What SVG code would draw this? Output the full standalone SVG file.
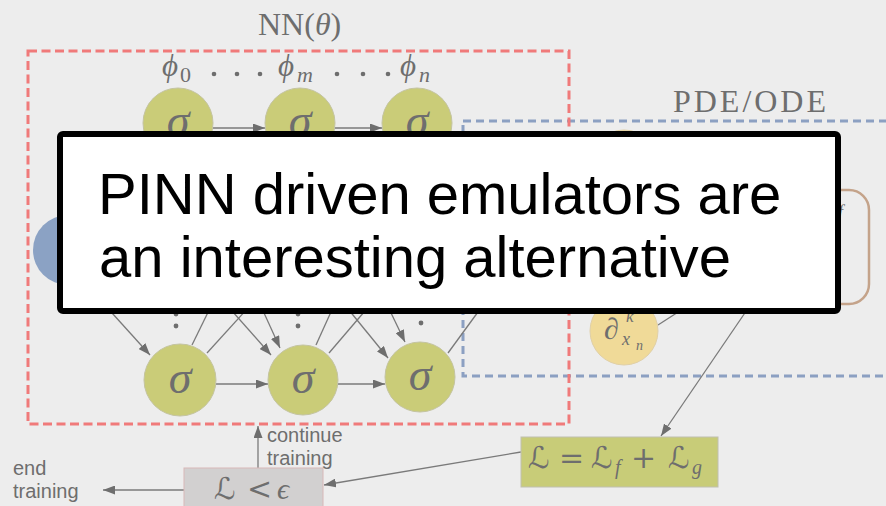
<svg xmlns="http://www.w3.org/2000/svg" width="886" height="506" viewBox="0 0 886 506">
<style>
.bg{fill:#ededed}
.math{font-family:"Liberation Serif","DejaVu Serif",serif;fill:#6e6e6e}
.it{font-style:italic}
.scr{font-family:"DejaVu Serif","DejaVu Sans",serif;fill:#6e6e6e}
.lbl{font-family:"Liberation Sans",Arial,sans-serif;fill:#6e6e6e;font-size:20px}
.sig{fill:#cacc78;stroke:#c4c4a0;stroke-width:1}
.edge{stroke:#7a7a7a;stroke-width:1.3;fill:none}
.dot{fill:#6e6e6e}
</style>
<defs>
<marker id="ah" markerUnits="userSpaceOnUse" markerWidth="13" markerHeight="9" refX="12" refY="4.5" orient="auto">
<path d="M0,0 L12,4.5 L0,9 z" fill="#6e6e6e"/>
</marker>
</defs>
<rect class="bg" x="0" y="0" width="886" height="506"/>

<g id="pde-region">
<rect x="463" y="121" width="440" height="255" fill="none" stroke="#8ca0c2" stroke-width="3" stroke-dasharray="8 5"/>
<text class="math" x="673" y="112" font-size="32" textLength="153">PDE/ODE</text>
</g>

<g id="nn-region">
<rect x="28" y="51" width="541" height="373" fill="none" stroke="#f07a7a" stroke-width="3" stroke-dasharray="9 4.5"/>
<text class="math" x="258" y="35" font-size="32">NN(<tspan class="it">θ</tspan>)</text>
</g>

<g id="labels-phi">
<text class="math it" x="162" y="76" font-size="31">ϕ</text>
<text class="math" x="180" y="82" font-size="22">0</text>
<circle class="dot" cx="214" cy="74" r="2.3"/><circle class="dot" cx="237" cy="74" r="2.3"/><circle class="dot" cx="260" cy="74" r="2.3"/>
<text class="math it" x="278" y="76" font-size="31">ϕ</text>
<text class="math it" x="297" y="82" font-size="22">m</text>
<circle class="dot" cx="337" cy="74" r="2.3"/><circle class="dot" cx="363" cy="74" r="2.3"/><circle class="dot" cx="388" cy="74" r="2.3"/>
<text class="math it" x="400" y="76" font-size="31">ϕ</text>
<text class="math it" x="419" y="82" font-size="22">n</text>
</g>

<g id="connectors">
<line class="edge" x1="213" y1="128" x2="265" y2="128" marker-end="url(#ah)"/>
<line class="edge" x1="335" y1="128" x2="382" y2="128" marker-end="url(#ah)"/>
<line class="edge" x1="216" y1="384" x2="268" y2="384" marker-end="url(#ah)"/>
<line class="edge" x1="338" y1="384" x2="385" y2="384" marker-end="url(#ah)"/>
<line class="edge" x1="84" y1="282" x2="150" y2="355" marker-end="url(#ah)"/>
<line class="edge" x1="192" y1="345" x2="285" y2="155" marker-end="url(#ah)"/>
<line class="edge" x1="207" y1="353" x2="277" y2="276" marker-end="url(#ah)"/>
<line class="edge" x1="201" y1="276" x2="271" y2="355" marker-end="url(#ah)"/>
<line class="edge" x1="192" y1="155" x2="280" y2="348" marker-end="url(#ah)"/>
<line class="edge" x1="316" y1="345" x2="402" y2="155" marker-end="url(#ah)"/>
<line class="edge" x1="329" y1="353" x2="394" y2="277" marker-end="url(#ah)"/>
<line class="edge" x1="322" y1="277" x2="388" y2="358" marker-end="url(#ah)"/>
<line class="edge" x1="315" y1="155" x2="405" y2="342" marker-end="url(#ah)"/>
<line class="edge" x1="448" y1="353" x2="505" y2="275"/>
<line class="edge" x1="658" y1="325" x2="700" y2="298"/>
<line class="edge" x1="751" y1="304" x2="661" y2="436" marker-end="url(#ah)"/>
<line class="edge" x1="521" y1="452" x2="324" y2="485" marker-end="url(#ah)"/>
<line class="edge" x1="258" y1="468" x2="258" y2="426" marker-end="url(#ah)"/>
<line class="edge" x1="184" y1="490" x2="103" y2="490" marker-end="url(#ah)"/>
</g>

<g id="dots">
<circle class="dot" cx="176" cy="302" r="2.4"/><circle class="dot" cx="176" cy="314" r="2.4"/><circle class="dot" cx="176" cy="326" r="2.4"/>
<circle class="dot" cx="298" cy="302" r="2.4"/><circle class="dot" cx="298" cy="314" r="2.4"/><circle class="dot" cx="298" cy="326" r="2.4"/>
<circle class="dot" cx="421" cy="299" r="2.4"/><circle class="dot" cx="421" cy="311" r="2.4"/><circle class="dot" cx="421" cy="323" r="2.4"/>
</g>

<g id="input"><circle cx="68" cy="250" r="35" fill="#8ba2c4"/></g>
<g id="n-top-1"><circle class="sig" cx="178" cy="123" r="35"/><text class="math it" x="178" y="136" font-size="46" text-anchor="middle">σ</text></g>
<g id="n-top-2"><circle class="sig" cx="300" cy="123" r="35"/><text class="math it" x="300" y="136" font-size="46" text-anchor="middle">σ</text></g>
<g id="n-top-3"><circle class="sig" cx="417" cy="123" r="35"/><text class="math it" x="417" y="136" font-size="46" text-anchor="middle">σ</text></g>
<g id="n-bot-1"><circle class="sig" cx="180" cy="380" r="36"/><text class="math it" x="180" y="393" font-size="46" text-anchor="middle">σ</text></g>
<g id="n-bot-2"><circle class="sig" cx="303" cy="380" r="35"/><text class="math it" x="303" y="393" font-size="46" text-anchor="middle">σ</text></g>
<g id="n-bot-3"><circle class="sig" cx="420" cy="377" r="35"/><text class="math it" x="420" y="390" font-size="46" text-anchor="middle">σ</text></g>

<g id="d-top"><circle cx="624" cy="165" r="35" fill="#f0da98" stroke="#e0d0a8" stroke-width="1"/></g>
<g id="d-xn">
<circle cx="624" cy="331" r="34" fill="#f0da98" stroke="#e0d0a8" stroke-width="1"/>
<text class="math" x="604" y="339" font-size="30">∂</text>
<text class="math it" x="626" y="322" font-size="17">k</text>
<text class="math it" x="622" y="345" font-size="18">x</text>
<text class="math it" x="636" y="350" font-size="14">n</text>
</g>

<g id="residuals">
<rect x="700" y="190" width="169" height="114" rx="20" fill="none" stroke="#c4a38a" stroke-width="2.5"/>
<text class="math it" x="838" y="218" font-size="18">f</text>
</g>

<g id="loss">
<rect x="521" y="437" width="197" height="50" fill="#c8cc78" stroke="#c0c0b0" stroke-width="1"/>
<text class="scr" font-size="30" y="468"><tspan x="528">ℒ</tspan><tspan x="559">=</tspan><tspan x="591">ℒ</tspan></text>
<text class="math it" x="615" y="474" font-size="20">f</text>
<text class="scr" font-size="30" y="468"><tspan x="631">+</tspan><tspan x="668">ℒ</tspan></text>
<text class="math it" x="692" y="474" font-size="20">g</text>
</g>

<g id="check">
<rect x="184" y="468" width="139" height="50" fill="#d2d0d0" stroke="#d8b8b8" stroke-width="1"/>
<text class="scr" font-size="30" y="499"><tspan x="214">ℒ</tspan><tspan x="247">&lt;</tspan></text>
<text class="math it" x="277" y="499" font-size="30">ϵ</text>
</g>

<g id="continue-label"><text class="lbl" x="267" y="442">continue</text><text class="lbl" x="267" y="465">training</text></g>
<g id="end-label"><text class="lbl" x="13" y="475">end</text><text class="lbl" x="13" y="498">training</text></g>

<g id="overlay">
<rect x="60" y="134" width="778" height="177" rx="3" fill="#ffffff" stroke="#000000" stroke-width="6"/>
<text x="98" y="214" font-family="Liberation Sans, Arial, sans-serif" font-size="58" fill="#000000">PINN driven emulators are</text>
<text x="99" y="277" font-family="Liberation Sans, Arial, sans-serif" font-size="58" fill="#000000">an interesting alternative</text>
</g>
</svg>
